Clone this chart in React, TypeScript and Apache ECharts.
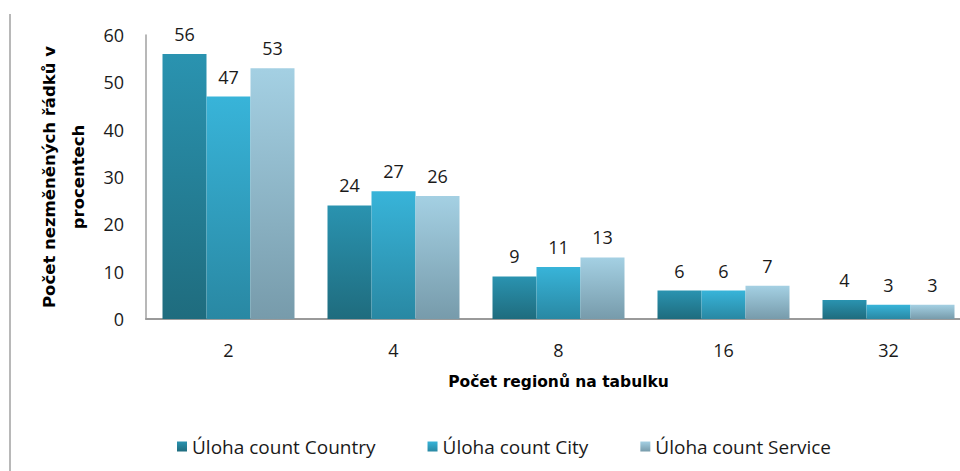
import React, { useEffect, useRef } from "react";
import * as echarts from "echarts";

const categories = ["2", "4", "8", "16", "32"];
const countryValues = [56, 24, 9, 6, 4];
const cityValues = [47, 27, 11, 6, 3];
const serviceValues = [53, 26, 13, 7, 3];
const seriesNames = ["Úloha count Country", "Úloha count City", "Úloha count Service"];
const yTitle = "Počet nezměněných řádků v\nprocentech";
const xTitle = "Počet regionů na tabulku";

const FONT = "'Open Sans', sans-serif";
const BOLD = "'DejaVu Sans', sans-serif";

function grad(top: string, bottom: string) {
  return new echarts.graphic.LinearGradient(0, 0, 0, 1, [
    { offset: 0, color: top },
    { offset: 1, color: bottom },
  ]);
}

export default function App() {
  const ref = useRef<HTMLDivElement>(null);
  useEffect(() => {
    if (!ref.current) return;
    const chart = echarts.init(ref.current, undefined, { renderer: "svg" });
    const label = {
      show: true,
      position: "top" as const,
      distance: 11,
      color: "#1a1a1a",
      fontSize: 18,
      fontFamily: FONT,
    };
    const mk = (name: string, data: number[], top: string, bottom: string) => ({
      name,
      type: "bar" as const,
      data,
      barGap: "0%",
      barCategoryGap: "20%",
      label,
      itemStyle: { color: grad(top, bottom) },
    });
    chart.setOption({
      animation: false,
      backgroundColor: "#ffffff",
      grid: {
        left: 146,
        width: 825,
        top: 35,
        height: 284,
        containLabel: false,
        outerBoundsMode: "none",
      },
      legend: {
        left: 172,
        top: 432,
        itemWidth: 10,
        itemHeight: 10,
        itemGap: 52,
        icon: "rect",
        textStyle: { fontSize: 19, color: "#1a1a1a", fontFamily: FONT },
        data: seriesNames,
      },
      xAxis: {
        type: "category",
        data: categories,
        name: xTitle,
        nameLocation: "middle",
        nameGap: 55,
        nameTextStyle: { fontSize: 15.5, fontWeight: "bold", color: "#000", fontFamily: BOLD },
        axisLine: { show: true, lineStyle: { color: "#9a9a9a", width: 2 } },
        axisTick: { show: false },
        axisLabel: { margin: 22, fontSize: 18, color: "#1a1a1a", fontFamily: FONT },
      },
      yAxis: {
        type: "value",
        min: 0,
        max: 60,
        interval: 10,
        name: yTitle,
        nameLocation: "middle",
        nameRotate: 90,
        nameGap: 50,
        nameTextStyle: {
          fontSize: 16.5,
          fontWeight: "bold",
          color: "#000",
          fontFamily: BOLD,
          lineHeight: 29,
          align: "center",
        },
        axisLine: { show: true, lineStyle: { color: "#a0a0a0", width: 1.5 } },
        axisTick: { show: false },
        splitLine: { show: false },
        axisLabel: { margin: 22, fontSize: 18, color: "#1a1a1a", fontFamily: FONT },
      },
      graphic: [
        {
          type: "line",
          shape: { x1: 10, y1: 14, x2: 10, y2: 471 },
          style: { stroke: "#a0a0a0", lineWidth: 1.5 },
        },
      ],
      series: [
        mk(seriesNames[0], countryValues, "#2a93b0", "#1f6c7e"),
        mk(seriesNames[1], cityValues, "#38b4d9", "#2988a3"),
        mk(seriesNames[2], serviceValues, "#a4d0e3", "#779bab"),
      ],
    });
    return () => chart.dispose();
  }, []);
  return (
    <div
      ref={ref}
      style={{ position: "absolute", left: 0, top: 0, width: 960, height: 471, overflow: "hidden" }}
    />
  );
}
